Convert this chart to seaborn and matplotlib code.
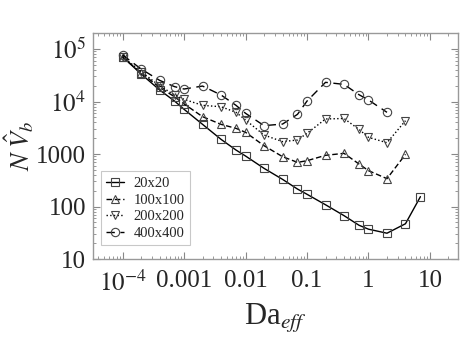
import matplotlib
matplotlib.use("Agg")
import matplotlib.pyplot as plt
import seaborn as sns
from matplotlib.ticker import LogLocator, NullFormatter, FixedLocator, FixedFormatter

# ============================================
# DATA
# ============================================
da_20 = [1e-4, 2e-4, 4e-4, 7e-4, 1e-3, 2e-3, 4e-3, 7e-3, 1e-2, 2e-2,
         4e-2, 7e-2, 0.1, 0.2, 0.4, 0.7, 1, 2, 4, 7]
nv_20 = [71000, 33400, 16600, 10200, 7100, 3670, 1900, 1190, 916, 533,
         329, 215, 171, 108, 67, 44, 37, 31, 47, 154]

da_100 = [1e-4, 2e-4, 4e-4, 7e-4, 1e-3, 2e-3, 4e-3, 7e-3, 1e-2, 2e-2,
          4e-2, 7e-2, 0.1, 0.2, 0.4, 0.7, 1, 2, 4]
nv_100 = [70000, 35000, 18600, 12300, 9000, 5140, 3670, 3080, 2590, 1440,
          890, 693, 746, 944, 1030, 646, 482, 339, 986]

da_200 = [1e-4, 2e-4, 4e-4, 7e-4, 1e-3, 2e-3, 4e-3, 7e-3, 1e-2, 2e-2,
          4e-2, 7e-2, 0.1, 0.2, 0.4, 0.7, 1, 2, 4]
nv_200 = [72000, 37000, 20000, 13300, 11000, 8450, 7950, 6220, 4450, 2300,
          1720, 1850, 2480, 4650, 4750, 2950, 2080, 1640, 4310]

da_400 = [1e-4, 2e-4, 4e-4, 7e-4, 1e-3, 2e-3, 4e-3, 7e-3, 1e-2, 2e-2,
          4e-2, 7e-2, 0.1, 0.2, 0.4, 0.7, 1, 2]
nv_400 = [76900, 41600, 25300, 19200, 17300, 19700, 13300, 8450, 5960, 3470,
          3720, 5700, 10200, 23200, 21200, 13500, 10700, 6220]

labels = ["20x20", "100x100", "200x200", "400x400"]

x_ticks = [1e-4, 1e-3, 1e-2, 1e-1, 1, 10]
x_ticklabels = [r"$10^{-4}$", "0.001", "0.01", "0.1", "1", "10"]
y_ticks = [10, 100, 1000, 1e4, 1e5]
y_ticklabels = ["10", "100", "1000", r"$10^4$", r"$10^5$"]

# ============================================
# STYLE
# ============================================
sns.set_style("ticks")
plt.rcParams['font.family'] = ['Liberation Serif', 'DejaVu Serif']
plt.rcParams['mathtext.fontset'] = 'stix'

fig = plt.figure(figsize=(4.63, 3.38), dpi=100)
ax = fig.add_axes([0.2009, 0.2337, 0.7883, 0.6687])

series = [
    (da_20, nv_20, 's', '-', None),
    (da_100, nv_100, '^', '--', (4, 2)),
    (da_200, nv_200, 'v', ':', None),
    (da_400, nv_400, 'o', '--', (6, 4)),
]

for (xs, ys, mk, ls, dash), lab in zip(series, labels):
    kw = dict(x=xs, y=ys, ax=ax, color='black', linestyle=ls, linewidth=1.0,
              marker=mk, markersize=6, markerfacecolor='none',
              markeredgecolor='#444444', markeredgewidth=0.8, label=lab,
              sort=False)
    line = sns.lineplot(**kw).lines[-1]
    if dash is not None:
        line.set_dashes(dash)

ax.set_xscale('log')
ax.set_yscale('log')
ax.set_xlim(3.3e-5, 28.6)
ax.set_ylim(10, 2.02e5)

ax.xaxis.set_major_locator(FixedLocator(x_ticks))
ax.xaxis.set_major_formatter(FixedFormatter(x_ticklabels))
ax.yaxis.set_major_locator(FixedLocator(y_ticks))
ax.yaxis.set_major_formatter(FixedFormatter(y_ticklabels))
ax.xaxis.set_minor_locator(LogLocator(base=10, subs=range(2, 10), numticks=20))
ax.yaxis.set_minor_locator(LogLocator(base=10, subs=range(2, 10), numticks=20))
ax.xaxis.set_minor_formatter(NullFormatter())
ax.yaxis.set_minor_formatter(NullFormatter())

ax.tick_params(which='both', direction='in', top=True, right=True, color='#888888')
ax.tick_params(which='major', length=5, width=0.8, labelsize=18, pad=8)
ax.tick_params(which='minor', length=2.5, width=0.6)
ax.tick_params(axis='y', which='major', pad=5)
for sp in ax.spines.values():
    sp.set_color('#999999')
    sp.set_linewidth(1.0)

ax.set_xlabel(r"Da$_{\mathit{eff}}$", fontsize=22, labelpad=4)
ax.set_ylabel(r"$N\;\hat{V}_{b}$", fontsize=19)
ax.yaxis.set_label_coords(-0.155, 0.5)

leg = ax.legend(loc='lower left', bbox_to_anchor=(0.022, 0.06), fontsize=10.5,
                frameon=True, fancybox=False, handlelength=1.2,
                handletextpad=0.7, labelspacing=0.25, borderpad=0.35,
                borderaxespad=0)
leg.get_frame().set_edgecolor('#bbbbbb')
leg.get_frame().set_linewidth(0.8)

fig.savefig('out.png', dpi=100)
